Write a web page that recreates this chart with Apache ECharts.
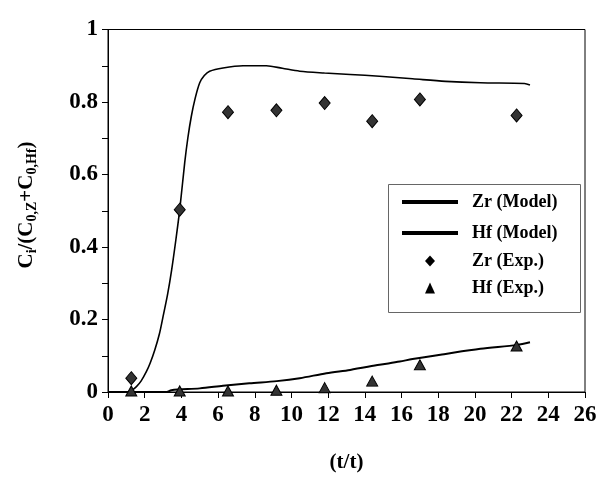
<!DOCTYPE html>
<html>
<head>
<meta charset="utf-8">
<script src="https://cdn.jsdelivr.net/npm/echarts@6/dist/echarts.min.js"></script>
<style>html,body{margin:0;padding:0;background:#fff}#c{width:604px;height:488px}</style>
</head>
<body>
<div id="c"></div>
<script>
// ---- data ----
var zrModel = [[0,0],[1.0,0],[1.3,0.005],[1.55,0.015],[1.8,0.03],[2.09,0.056],[2.3,0.08],[2.55,0.116],[2.8,0.16],[3.0,0.208],[3.25,0.27],[3.47,0.337],[3.7,0.42],[3.91,0.503],[4.18,0.632],[4.35,0.7],[4.54,0.76],[4.75,0.81],[5.0,0.853],[5.25,0.873],[5.54,0.885],[6.27,0.894],[7.36,0.9],[8.63,0.9],[9.5,0.893],[10.45,0.885],[11.8,0.88],[13.2,0.876],[14.8,0.871],[16.6,0.864],[18.4,0.857],[20.3,0.853],[22.7,0.851],[23.0,0.847]];
var hfModel = [[0,0],[3.2,0],[3.45,0.005],[5.0,0.01],[6.27,0.017],[7.7,0.024],[9.2,0.03],[10.45,0.038],[11.9,0.052],[13.2,0.061],[14.8,0.075],[15.9,0.084],[16.6,0.091],[18.4,0.105],[20.3,0.119],[22.3,0.13],[23.0,0.137]];
var zrExp = [[1.27,0.038],[3.91,0.503],[6.54,0.772],[9.18,0.777],[11.81,0.797],[14.4,0.747],[17.0,0.807],[22.27,0.763]];
var hfExp = [[1.27,0.003],[3.91,0.003],[6.54,0.003],[9.18,0.005],[11.81,0.012],[14.4,0.03],[17.0,0.075],[22.27,0.127]];
var seriesNames = ['Zr (Model)','Hf (Model)','Zr (Exp.)','Hf (Exp.)'];
var xTitle = '(t/t)';

var FONT = '"Liberation Serif","Times New Roman",serif';
var chart = echarts.init(document.getElementById('c'), null, {renderer:'canvas'});
var legText = {color:'#000',fontFamily:FONT,fontWeight:'bold',fontSize:18};
chart.setOption({
  animation:false,
  backgroundColor:'#fff',
  grid:{left:108,right:19,top:29.5,bottom:96,show:true,borderColor:'#000',borderWidth:1,backgroundColor:'transparent'},
  xAxis:{type:'value',min:0,max:26,interval:2,
    axisLine:{show:true,lineStyle:{color:'#000',width:1}},
    axisTick:{show:true,length:6,lineStyle:{color:'#000'}},
    splitLine:{show:false},
    axisLabel:{color:'#000',fontFamily:FONT,fontWeight:'bold',fontSize:23,margin:12},
    name:xTitle,nameLocation:'middle',nameGap:60,
    nameTextStyle:{color:'#000',fontFamily:FONT,fontWeight:'bold',fontSize:21}
  },
  yAxis:{type:'value',min:0,max:1,interval:0.1,
    axisLine:{show:true,lineStyle:{color:'#000',width:1}},
    axisTick:{show:true,length:6,lineStyle:{color:'#000'}},
    splitLine:{show:false},
    axisLabel:{color:'#000',fontFamily:FONT,fontWeight:'bold',fontSize:23,margin:10,
      formatter:function(v){var k=Math.round(v*10);return k%2===0?String(k/10):'';}}
  },
  legend:[
    {orient:'vertical',left:388,top:184,padding:[9,0,0,14],itemGap:13,itemWidth:56,itemHeight:4,z:20,
      textStyle:Object.assign({padding:[0,0,0,9]},legText),
      data:[{name:seriesNames[0],icon:'rect',itemStyle:{color:'#000',borderWidth:0}},
            {name:seriesNames[1],icon:'rect',itemStyle:{color:'#000',borderWidth:0}}]},
    {orient:'vertical',left:425,top:252,padding:0,itemGap:9,itemWidth:10,itemHeight:11,z:20,
      textStyle:Object.assign({padding:[0,0,0,32]},legText),
      data:[{name:seriesNames[2],icon:'diamond',itemStyle:{color:'#000',borderWidth:0}},
            {name:seriesNames[3],icon:'triangle',itemStyle:{color:'#000',borderWidth:0}}]}
  ],
  series:[
    {name:seriesNames[0],type:'line',data:zrModel,showSymbol:false,symbol:'none',smooth:0.3,
      lineStyle:{color:'#000',width:1.6},itemStyle:{color:'#000'},z:3},
    {name:seriesNames[1],type:'line',data:hfModel,showSymbol:false,symbol:'none',smooth:0.3,
      lineStyle:{color:'#000',width:2},itemStyle:{color:'#000'},z:3},
    {name:seriesNames[2],type:'scatter',data:zrExp,symbol:'diamond',symbolSize:[11,13],
      itemStyle:{color:'#333',borderColor:'#000',borderWidth:1,opacity:1},z:4},
    {name:seriesNames[3],type:'scatter',data:hfExp,symbol:'triangle',symbolSize:[11,10],
      itemStyle:{color:'#333',borderColor:'#000',borderWidth:1,opacity:1},z:4}
  ],
  graphic:[
    {type:'rect',shape:{x:388.5,y:184.5,width:192,height:128},
      style:{fill:'#fff',stroke:'#666',lineWidth:1},z:1,silent:true},
    {type:'text',x:27,y:205,rotation:Math.PI/2,z:10,
      style:{
        text:'{m|C}{s|i}{m|/(C}{s|0,Z}{m|+C}{s|0,Hf}{m|)}',
        align:'center',verticalAlign:'middle',
        rich:{
          m:{fontFamily:FONT,fontWeight:'bold',fontSize:21,fill:'#000',lineHeight:26,verticalAlign:'middle'},
          s:{fontFamily:FONT,fontWeight:'bold',fontSize:14,fill:'#000',lineHeight:26,verticalAlign:'middle',padding:[11,0,0,0]}
        }
      }
    }
  ]
});
</script>
</body>
</html>
